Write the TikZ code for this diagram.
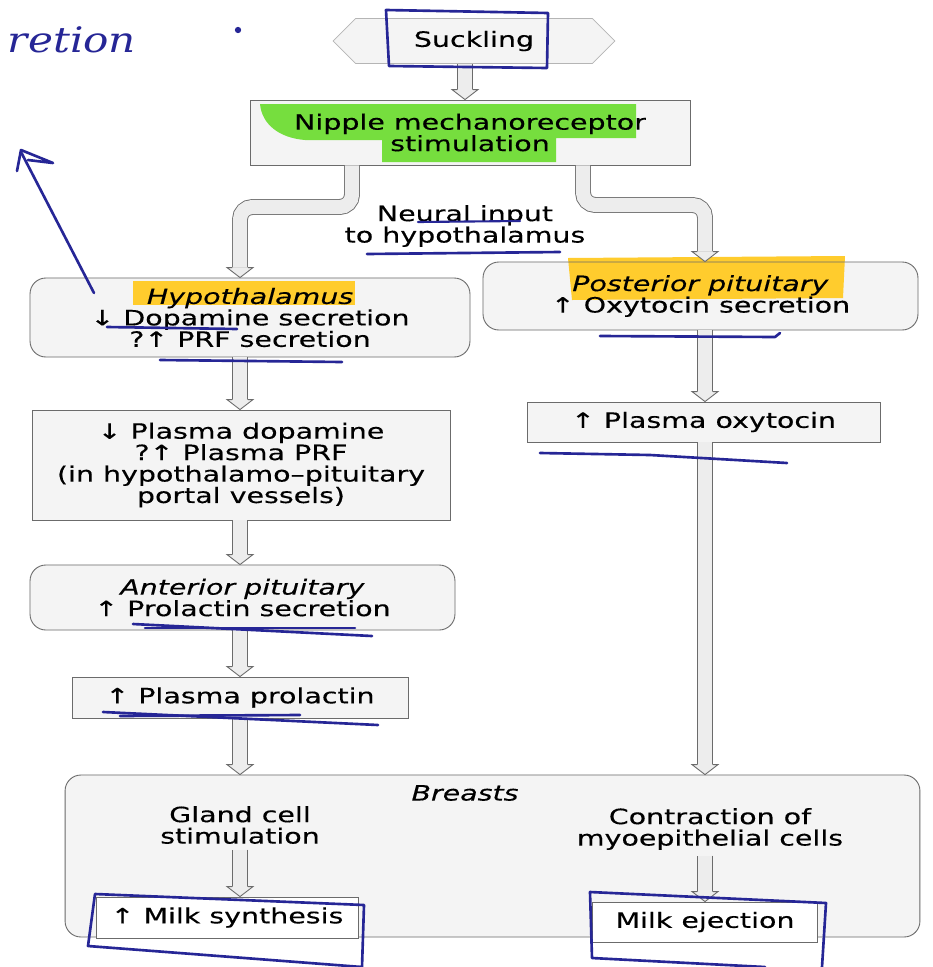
\documentclass[tikz,border=0pt]{standalone}
\usepackage{fontspec}
\setmainfont{DejaVu Sans}[FakeStretch=1.35, FakeBold=0.3]
\newfontfamily\handfont{DejaVu Serif}[FakeStretch=1.2]
\usetikzlibrary{shapes.symbols,backgrounds}

\definecolor{boxgray}{gray}{0.42}
\definecolor{boxfill}{gray}{0.955}
\definecolor{pipefill}{gray}{0.93}
\definecolor{pencol}{RGB}{38,38,150}
\definecolor{hlgreen}{RGB}{118,222,62}
\definecolor{hlyellow}{RGB}{255,204,45}

\newcommand{\dfont}{\fontsize{12}{12.2}\selectfont}

\tikzset{
  box/.style={draw=boxgray, line width=0.5pt, align=center, inner sep=0pt, font=\dfont},
  rbox/.style={box, rounded corners=9pt},
  txt/.style={align=center, inner xsep=0pt, inner ysep=3pt, font=\dfont},
  pipe/.style={draw=boxgray, line width=0.5pt, double=pipefill, double distance=8pt,
    rounded corners=7pt, shorten >=0.2cm},
  pen/.style={draw=pencol, line width=1.5pt, line cap=round, line join=round},
  hd/.pic={\filldraw[draw=boxgray, fill=pipefill, line width=0.5pt]
    (-8,-10) -- (-13,-10) -- (0,0) -- (13,-10) -- (8,-10);}
}

\begin{document}
\begin{tikzpicture}[x=0.02cm, y=-0.02cm]
  \useasboundingbox (0,0) rectangle (933,967);

  % columns of the flow
  \coordinate (lc) at (240,0);
  \coordinate (cc) at (465,0);
  \coordinate (rc) at (705,0);
  \coordinate (lb) at (352,207);
  \coordinate (rb) at (583,205);

  \node[signal, signal to=west and east, draw=boxgray!50, fill=boxfill,
    minimum width=5.64cm, minimum height=0.9cm, font=\dfont, inner sep=0pt]
    (suckling) at (474,41) {Suckling};
  \node[box, minimum width=8.8cm, minimum height=1.3cm] (nipple) at (470,132.5)
    {Nipple mechanoreceptor\\stimulation};
  \node[txt] (neural) at (465,226) {Neural input\\to hypothalamus};

  \node[rbox, minimum width=8.8cm, minimum height=1.58cm] (hypo) at (250,317.5)
    {\textit{Hypothalamus}\\↓ Dopamine secretion\\?↑ PRF secretion};
  \node[rbox, minimum width=8.7cm, minimum height=1.36cm] (postpit) at (700.5,296)
    {\textit{Posterior pituitary}\\↑ Oxytocin secretion};

  \node[box, minimum width=8.36cm, minimum height=2.2cm] (plasmadop) at (241,465)
    {↓ Plasma dopamine\\?↑ Plasma PRF\\(in hypothalamo–pituitary\\portal vessels)};
  \node[box, minimum width=7.06cm, minimum height=0.8cm] (plasmaoxy) at (703.5,422)
    {↑ Plasma oxytocin};

  \node[rbox, minimum width=8.5cm, minimum height=1.3cm] (antpit) at (242.5,597.5)
    {\textit{Anterior pituitary}\\↑ Prolactin secretion};
  \node[box, minimum width=6.72cm, minimum height=0.82cm] (plasmaprl) at (240,697.5)
    {↑ Plasma prolactin};

  \node[rbox, minimum width=17.1cm, minimum height=3.24cm] (breasts) at (492.5,856) {};
  \node[txt] (brtitle) at (465,793) {\textit{Breasts}};
  \node[txt] (gland) at (240,825) {Gland cell\\stimulation};
  \node[txt] (contract) at (710,829) {Contraction of\\myoepithelial cells};
  \node[box, fill=white, minimum width=5.24cm, minimum height=0.82cm] (milksyn) at (227,917.5)
    {↑ Milk synthesis};
  \node[box, fill=white, minimum width=4.5cm, minimum height=0.8cm] (milkej) at (705,922)
    {Milk ejection};

  % pipes
  \draw[pipe] (suckling.south -| cc) -- (nipple.north -| cc);
  \pic at (nipple.north -| cc) {hd};
  \draw[pipe] (nipple.south -| lb) -- (lb) -- (lb -| lc) -- (hypo.north -| lc);
  \pic at (hypo.north -| lc) {hd};
  \draw[pipe] (nipple.south -| rb) -- (rb) -- (rb -| rc) -- (postpit.north -| rc);
  \pic at (postpit.north -| rc) {hd};
  \foreach \a/\b/\c in {hypo/plasmadop/lc, plasmadop/antpit/lc, antpit/plasmaprl/lc,
      plasmaprl/breasts/lc, postpit/plasmaoxy/rc, plasmaoxy/breasts/rc,
      gland/milksyn/lc, contract/milkej/rc}{
    \draw[pipe] (\a.south -| \c) -- (\b.north -| \c);
    \pic at (\b.north -| \c) {hd};
  }

  % box fills and highlighter marks
  \begin{scope}[on background layer]
    \fill[white] (0,0) rectangle (933,967);
    \foreach \n in {nipple, plasmadop, plasmaoxy, plasmaprl}
      \fill[boxfill] (\n.south west) rectangle (\n.north east);
    \foreach \n in {hypo, postpit, antpit, breasts}
      \fill[boxfill, rounded corners=9pt] (\n.south west) rectangle (\n.north east);
    \fill[hlgreen] (260,104) -- (636,104) -- (636,138) -- (556,138) -- (556,162)
      -- (382,162) -- (382,140) -- (305,140) .. controls (280,138) and (262,125) .. (260,104) -- cycle;
    \fill[hlyellow] (133,281) rectangle (355,305);
    \fill[hlyellow] (568,258) -- (845,256) -- (843,298) -- (572,300) -- cycle;
  \end{scope}

  % pen marks
  \draw[pen] (386,10) -- (548,13) -- (547,68) -- (389,66) -- cycle;
  \draw[pen, line width=1.2pt] (418,222) -- (520,221);
  \draw[pen] (367,254) -- (560,252);
  \draw[pen] (107,327) -- (237,329);
  \draw[pen] (160,360) -- (342,362);
  \draw[pen] (600,336) -- (775,337) -- (780,333);
  \draw[pen] (540,453) -- (650,455) -- (787,463);
  \draw[pen] (133,624) -- (372,636);
  \draw[pen] (145,628) -- (355,628);
  \draw[pen] (103,712) -- (378,725);
  \draw[pen] (120,716) -- (300,715);
  \draw[pen] (95,894) -- (364,905) -- (362,967) -- (88,946) -- cycle;
  \draw[pen] (765,967) -- (592,958) -- (590,892) -- (826,903) -- (822,967);
  \draw[pen] (94,293) -- (21,152);
  \draw[pen] (17,171) -- (21,150) -- (53,163) -- (28,160);
  \node[text=pencol, font=\handfont\itshape\fontsize{20}{20}\selectfont]
    (note) at (72,40) {retion};
  \fill[pencol] (238,30) circle (1.8pt);
\end{tikzpicture}
\end{document}
